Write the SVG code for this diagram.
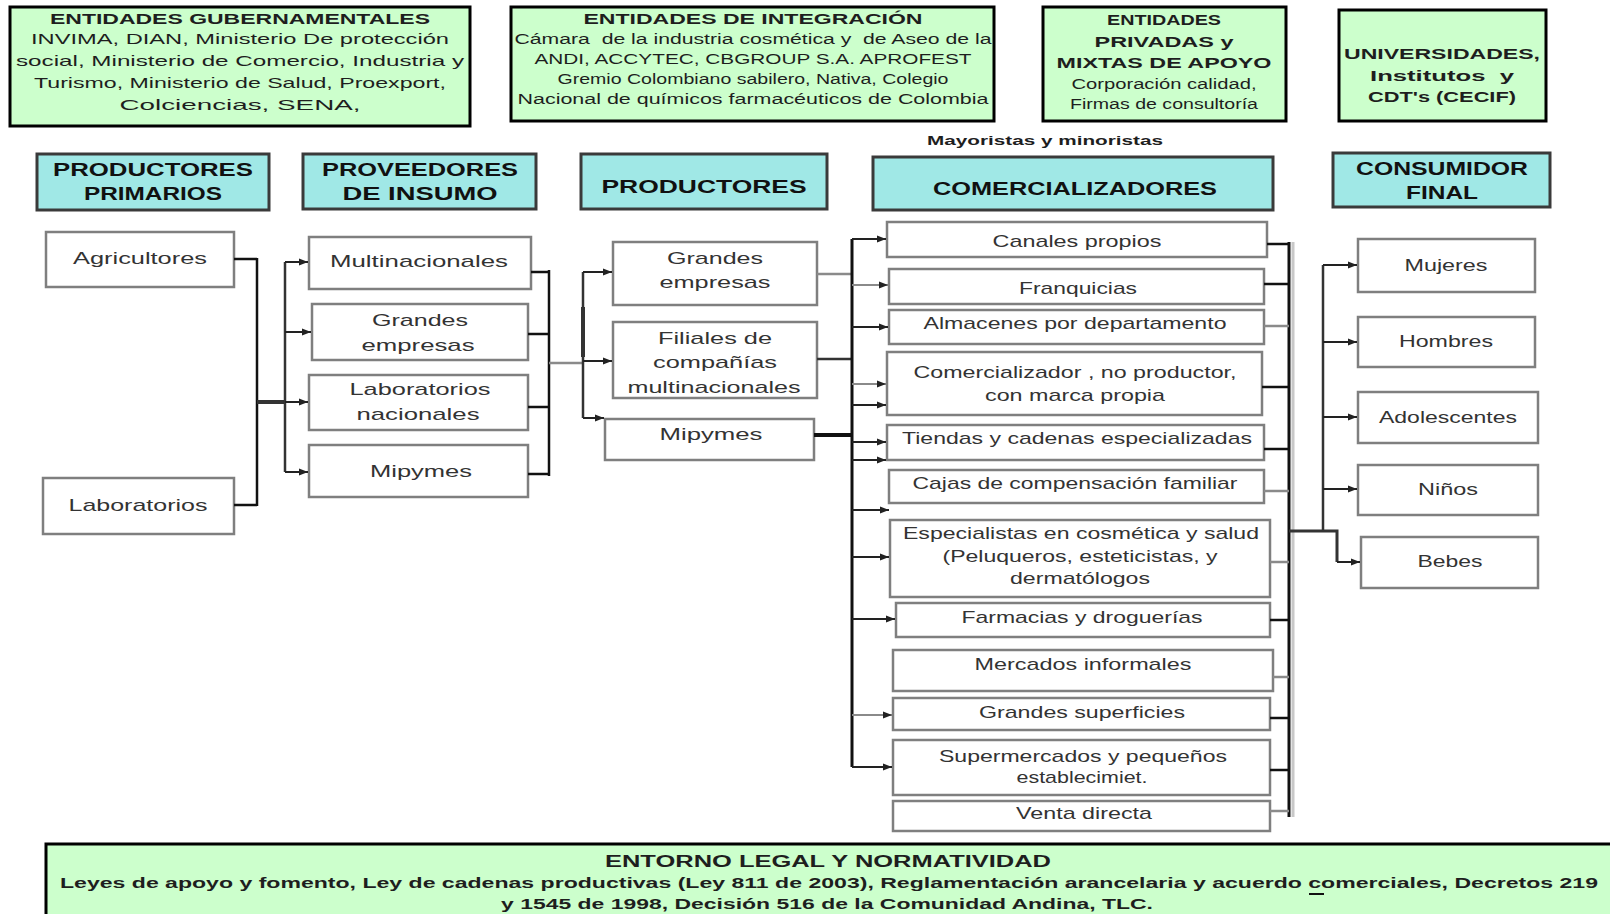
<svg xmlns="http://www.w3.org/2000/svg" width="1610" height="914" viewBox="0 0 1610 914">
<defs>
<style>
.g{fill:#CCFFCC;stroke:#000;stroke-width:3}
.h{fill:#A0E8E6;stroke:#3a3a3a;stroke-width:3}
.b{fill:#fff;stroke:#7f7f7f;stroke-width:2.5}
text{font-family:"Liberation Sans",Arial,sans-serif;fill:#1e1e1e;text-anchor:middle}
.t15b{font-size:15px;font-weight:bold}
.t15{font-size:15px}
.t14{font-size:14px}
.t14b{font-size:14px;font-weight:bold}
.hd{font-size:18px;font-weight:bold;fill:#111}
.in{font-size:17px;fill:#333}
.bt{font-size:15px;font-weight:bold}
.pre{white-space:pre}
.k{fill:none;stroke:#111;stroke-width:2.5}
.kg{fill:none;stroke:#8a8a8a;stroke-width:2.5}
.kd{fill:none;stroke:#333;stroke-width:2.5}
.a{fill:none;stroke:#222;stroke-width:2;marker-end:url(#ar)}
.ag{fill:none;stroke:#8a8a8a;stroke-width:2;marker-end:url(#ar)}
</style>
<marker id="ar" markerUnits="userSpaceOnUse" markerWidth="10" markerHeight="8" refX="9" refY="4" orient="auto">
<path d="M0,0.5 L9,4 L0,7.5 z" fill="#222"/>
</marker>
</defs>
<rect width="1610" height="914" fill="#fff"/>

<g id="entidades-gubernamentales">
<rect class="g" x="10" y="7" width="460" height="119"/>
<text class="t15b" x="240" y="23.5" textLength="380" lengthAdjust="spacingAndGlyphs">ENTIDADES GUBERNAMENTALES</text>
<text class="t15" x="240" y="44" textLength="418" lengthAdjust="spacingAndGlyphs">INVIMA, DIAN, Ministerio De protección</text>
<text class="t15" x="240" y="66" textLength="448" lengthAdjust="spacingAndGlyphs">social, Ministerio de Comercio, Industria y</text>
<text class="t15" x="240" y="88" textLength="412" lengthAdjust="spacingAndGlyphs">Turismo, Ministerio de Salud, Proexport,</text>
<text class="t15" x="240" y="110" textLength="241" lengthAdjust="spacingAndGlyphs">Colciencias, SENA,</text>
</g>

<g id="entidades-integracion">
<rect class="g" x="511" y="7" width="483" height="114"/>
<text class="t14b" x="753" y="23.5" textLength="339" lengthAdjust="spacingAndGlyphs">ENTIDADES DE INTEGRACIÓN</text>
<text class="t14 pre" x="753" y="44" textLength="477" lengthAdjust="spacingAndGlyphs">Cámara  de la industria cosmética y  de Aseo de la</text>
<text class="t14" x="753" y="63.5" textLength="437" lengthAdjust="spacingAndGlyphs">ANDI, ACCYTEC, CBGROUP S.A. APROFEST</text>
<text class="t14" x="753" y="84" textLength="391" lengthAdjust="spacingAndGlyphs">Gremio Colombiano sabilero, Nativa, Colegio</text>
<text class="t14" x="753" y="103.5" textLength="471" lengthAdjust="spacingAndGlyphs">Nacional de químicos farmacéuticos de Colombia</text>
</g>

<g id="entidades-privadas">
<rect class="g" x="1043" y="7" width="243" height="114"/>
<text class="t15b" x="1164" y="25" textLength="114" lengthAdjust="spacingAndGlyphs">ENTIDADES</text>
<text class="t15b" x="1164" y="46.5" textLength="139" lengthAdjust="spacingAndGlyphs">PRIVADAS y</text>
<text class="t15b" x="1164" y="68" textLength="215" lengthAdjust="spacingAndGlyphs">MIXTAS DE APOYO</text>
<text class="t14" x="1164" y="89" textLength="185" lengthAdjust="spacingAndGlyphs">Corporación calidad,</text>
<text class="t14" x="1164" y="108.5" textLength="188" lengthAdjust="spacingAndGlyphs">Firmas de consultoría</text>
</g>

<g id="universidades">
<rect class="g" x="1339" y="10" width="207" height="111"/>
<text class="t15b" x="1442" y="58.5" textLength="196" lengthAdjust="spacingAndGlyphs">UNIVERSIDADES,</text>
<text class="t15b pre" x="1442" y="80.5" textLength="144" lengthAdjust="spacingAndGlyphs">Institutos  y</text>
<text class="t15b" x="1442" y="102" textLength="148" lengthAdjust="spacingAndGlyphs">CDT's (CECIF)</text>
</g>

<g id="mayoristas-label">
<text x="1045" y="144.5" style="font-size:13px;font-weight:bold" textLength="236" lengthAdjust="spacingAndGlyphs">Mayoristas y minoristas</text>
</g>

<g id="hdr-productores-primarios">
<rect class="h" x="37" y="154" width="232" height="56"/>
<text class="hd" x="153" y="175.5" textLength="200" lengthAdjust="spacingAndGlyphs">PRODUCTORES</text>
<text class="hd" x="153" y="199.5" textLength="138" lengthAdjust="spacingAndGlyphs">PRIMARIOS</text>
</g>
<g id="hdr-proveedores">
<rect class="h" x="303" y="154" width="233" height="55"/>
<text class="hd" x="420" y="175.5" textLength="196" lengthAdjust="spacingAndGlyphs">PROVEEDORES</text>
<text class="hd" x="420" y="199.5" textLength="155" lengthAdjust="spacingAndGlyphs">DE INSUMO</text>
</g>
<g id="hdr-productores">
<rect class="h" x="581" y="154" width="246" height="55"/>
<text class="hd" x="704" y="192.5" textLength="205" lengthAdjust="spacingAndGlyphs">PRODUCTORES</text>
</g>
<g id="hdr-comercializadores">
<rect class="h" x="873" y="157" width="400" height="53"/>
<text class="hd" x="1075" y="194.5" textLength="284" lengthAdjust="spacingAndGlyphs">COMERCIALIZADORES</text>
</g>
<g id="hdr-consumidor">
<rect class="h" x="1333" y="153" width="217" height="54"/>
<text class="hd" x="1442" y="174.5" textLength="172" lengthAdjust="spacingAndGlyphs">CONSUMIDOR</text>
<text class="hd" x="1442" y="198.5" textLength="72" lengthAdjust="spacingAndGlyphs">FINAL</text>
</g>

<g id="agricultores"><rect class="b" x="46" y="232" width="188" height="55"/><text class="in" x="140" y="264" textLength="134" lengthAdjust="spacingAndGlyphs">Agricultores</text></g>
<g id="laboratorios"><rect class="b" x="43" y="478" width="191" height="56"/><text class="in" x="138" y="511" textLength="139" lengthAdjust="spacingAndGlyphs">Laboratorios</text></g>

<g id="prov-multinacionales"><rect class="b" x="309" y="237" width="222" height="52"/><text class="in" x="419" y="267" textLength="178" lengthAdjust="spacingAndGlyphs">Multinacionales</text></g>
<g id="prov-grandes-empresas"><rect class="b" x="312" y="304" width="216" height="56"/><text class="in" x="420" y="326" textLength="96" lengthAdjust="spacingAndGlyphs">Grandes</text><text class="in" x="418" y="351" textLength="113" lengthAdjust="spacingAndGlyphs">empresas</text></g>
<g id="prov-laboratorios-nacionales"><rect class="b" x="309" y="375" width="219" height="55"/><text class="in" x="420" y="395" textLength="141" lengthAdjust="spacingAndGlyphs">Laboratorios</text><text class="in" x="418" y="420" textLength="123" lengthAdjust="spacingAndGlyphs">nacionales</text></g>
<g id="prov-mipymes"><rect class="b" x="309" y="445" width="219" height="52"/><text class="in" x="421" y="477" textLength="102" lengthAdjust="spacingAndGlyphs">Mipymes</text></g>

<g id="prod-grandes-empresas"><rect class="b" x="613" y="242" width="204" height="63"/><text class="in" x="715" y="264" textLength="96" lengthAdjust="spacingAndGlyphs">Grandes</text><text class="in" x="715" y="288" textLength="111" lengthAdjust="spacingAndGlyphs">empresas</text></g>
<g id="prod-filiales"><rect class="b" x="613" y="322" width="204" height="76"/><text class="in" x="715" y="344" textLength="114" lengthAdjust="spacingAndGlyphs">Filiales de</text><text class="in" x="715" y="368" textLength="124" lengthAdjust="spacingAndGlyphs">compañías</text><text class="in" x="714" y="393" textLength="173" lengthAdjust="spacingAndGlyphs">multinacionales</text></g>
<g id="prod-mipymes"><rect class="b" x="605" y="419" width="209" height="41"/><text class="in" x="711" y="440" textLength="103" lengthAdjust="spacingAndGlyphs">Mipymes</text></g>

<g id="com-canales"><rect class="b" x="887" y="222" width="380" height="35"/><text class="in" x="1077" y="247" textLength="169" lengthAdjust="spacingAndGlyphs">Canales propios</text></g>
<g id="com-franquicias"><rect class="b" x="889" y="269" width="375" height="35"/><text class="in" x="1078" y="294" textLength="118" lengthAdjust="spacingAndGlyphs">Franquicias</text></g>
<g id="com-almacenes"><rect class="b" x="889" y="310" width="375" height="34"/><text class="in" x="1075" y="329" textLength="303" lengthAdjust="spacingAndGlyphs">Almacenes por departamento</text></g>
<g id="com-comercializador"><rect class="b" x="887" y="352" width="375" height="63"/><text class="in" x="1075" y="378" textLength="323" lengthAdjust="spacingAndGlyphs">Comercializador , no productor,</text><text class="in" x="1075" y="401" textLength="180" lengthAdjust="spacingAndGlyphs">con marca propia</text></g>
<g id="com-tiendas"><rect class="b" x="887" y="425" width="377" height="35"/><text class="in" x="1077" y="444" textLength="350" lengthAdjust="spacingAndGlyphs">Tiendas y cadenas especializadas</text></g>
<g id="com-cajas"><rect class="b" x="889" y="470" width="375" height="33"/><text class="in" x="1075" y="489" textLength="325" lengthAdjust="spacingAndGlyphs">Cajas de compensación familiar</text></g>
<g id="com-especialistas"><rect class="b" x="890" y="520" width="380" height="77"/><text class="in" x="1081" y="539" textLength="356" lengthAdjust="spacingAndGlyphs">Especialistas en cosmética y salud</text><text class="in" x="1080" y="562" textLength="275" lengthAdjust="spacingAndGlyphs">(Peluqueros, esteticistas, y</text><text class="in" x="1080" y="584" textLength="140" lengthAdjust="spacingAndGlyphs">dermatólogos</text></g>
<g id="com-farmacias"><rect class="b" x="896" y="603" width="374" height="34"/><text class="in" x="1082" y="623" textLength="241" lengthAdjust="spacingAndGlyphs">Farmacias y droguerías</text></g>
<g id="com-mercados"><rect class="b" x="893" y="650" width="380" height="41"/><text class="in" x="1083" y="670" textLength="217" lengthAdjust="spacingAndGlyphs">Mercados informales</text></g>
<g id="com-grandes-superficies"><rect class="b" x="893" y="698" width="377" height="32"/><text class="in" x="1082" y="718" textLength="206" lengthAdjust="spacingAndGlyphs">Grandes superficies</text></g>
<g id="com-supermercados"><rect class="b" x="893" y="740" width="377" height="55"/><text class="in" x="1083" y="762" textLength="288" lengthAdjust="spacingAndGlyphs">Supermercados y pequeños</text><text class="in" x="1082" y="783" textLength="131" lengthAdjust="spacingAndGlyphs">establecimiet.</text></g>
<g id="com-venta-directa"><rect class="b" x="893" y="801" width="377" height="30"/><text class="in" x="1084" y="819" textLength="136" lengthAdjust="spacingAndGlyphs">Venta directa</text></g>

<g id="con-mujeres"><rect class="b" x="1358" y="239" width="177" height="53"/><text class="in" x="1446" y="271" textLength="83" lengthAdjust="spacingAndGlyphs">Mujeres</text></g>
<g id="con-hombres"><rect class="b" x="1358" y="317" width="177" height="50"/><text class="in" x="1446" y="347" textLength="94" lengthAdjust="spacingAndGlyphs">Hombres</text></g>
<g id="con-adolescentes"><rect class="b" x="1358" y="392" width="180" height="51"/><text class="in" x="1448" y="423" textLength="138" lengthAdjust="spacingAndGlyphs">Adolescentes</text></g>
<g id="con-ninos"><rect class="b" x="1358" y="465" width="180" height="50"/><text class="in" x="1448" y="495" textLength="60" lengthAdjust="spacingAndGlyphs">Niños</text></g>
<g id="con-bebes"><rect class="b" x="1361" y="537" width="177" height="51"/><text class="in" x="1450" y="567" textLength="65" lengthAdjust="spacingAndGlyphs">Bebes</text></g>

<g id="connectors">
<path class="k" d="M234,259 H257 M234,505 H257 M257,258 V506"/>
<path d="M257,402 H286" fill="none" stroke="#333" stroke-width="4"/>
<path class="kd" d="M285,262 V472"/>
<path class="a" d="M285,262 H308"/>
<path class="a" d="M285,332 H311"/>
<path class="a" d="M285,402 H308"/>
<path class="a" d="M285,472 H308"/>

<path class="k" d="M531,272 H549 M528,334 H549 M528,407 H549 M528,474 H549 M549,270 V476"/>
<path class="kg" d="M549,363 H583"/>
<path class="kd" d="M583,272 V418"/>
<path d="M583,307 V357" fill="none" stroke="#333" stroke-width="4"/>
<path class="a" d="M583,272 H612"/>
<path class="a" d="M583,361 H612"/>
<path class="a" d="M583,418 H604"/>

<path class="kg" d="M817,274 H852"/>
<path class="kd" d="M817,359 H852"/>
<path d="M814,435 H852" fill="none" stroke="#111" stroke-width="4"/>
<path d="M852,239 V767" fill="none" stroke="#111" stroke-width="3"/>
<path class="a" d="M852,239 H886"/>
<path class="ag" d="M852,285 H888"/>
<path class="a" d="M852,327 H888"/>
<path class="ag" d="M852,384 H886"/>
<path class="a" d="M852,405 H886"/>
<path class="a" d="M852,442 H886"/>
<path class="a" d="M852,460 H886"/>
<path class="a" d="M852,510 H889"/>
<path class="a" d="M852,557 H889"/>
<path class="a" d="M852,619 H895"/>
<path class="ag" d="M852,715 H892"/>
<path class="a" d="M852,767 H892"/>

<path d="M1293,242 V817" fill="none" stroke="#c8c8c8" stroke-width="3"/>
<path d="M1289,242 V817" fill="none" stroke="#111" stroke-width="3"/>
<path class="k" d="M1267,244 H1289 M1264,284 H1289 M1262,387 H1289 M1264,449 H1289 M1270,620 H1289 M1270,718 H1289 M1270,770 H1289"/>
<path class="kg" d="M1264,326 H1289 M1264,491 H1289 M1270,562 H1289 M1273,677 H1289 M1270,811 H1289"/>
<path d="M1289,531 H1337 V562" fill="none" stroke="#333" stroke-width="3"/>
<path class="kd" d="M1323,265 V531"/>
<path class="a" d="M1323,265 H1357"/>
<path class="a" d="M1323,342 H1357"/>
<path class="a" d="M1323,417 H1357"/>
<path class="a" d="M1323,489 H1357"/>
<path class="a" d="M1337,562 H1360"/>
</g>

<g id="entorno-legal">
<rect class="g" x="46" y="844" width="1574" height="80"/>
<text x="828" y="866.5" style="font-size:16px;font-weight:bold" textLength="446" lengthAdjust="spacingAndGlyphs">ENTORNO LEGAL Y NORMATIVIDAD</text>
<text class="bt" x="829" y="888" textLength="1538" lengthAdjust="spacingAndGlyphs">Leyes de apoyo y fomento, Ley de cadenas productivas (Ley 811 de 2003), Reglamentación arancelaria y acuerdo comerciales, Decretos 219</text>
<text class="bt" x="827" y="909" textLength="652" lengthAdjust="spacingAndGlyphs">y 1545 de 1998, Decisión 516 de la Comunidad Andina, TLC.</text>
<path d="M1309,894 H1324" stroke="#111" stroke-width="2"/>
</g>
</svg>
